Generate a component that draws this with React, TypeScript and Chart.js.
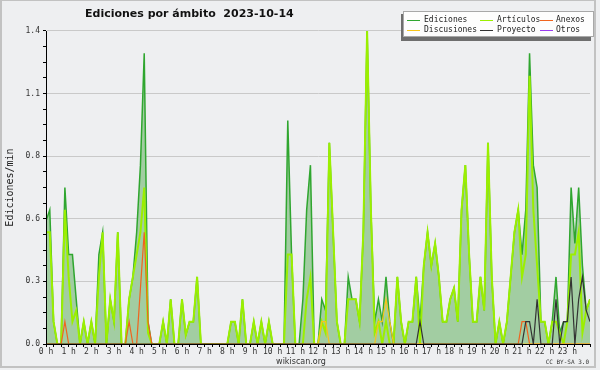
import React, { useEffect, useRef } from "react";
import { Chart, registerables } from "chart.js";

Chart.register(...registerables);

// ---- data (10-minute samples, 00:00 .. 24:00) ----
const TIMES = Array.from({ length: 145 }, (_, i) => i * 10); // minutes since 00:00

const EDICIONES = [
  0.55, 0.6, 0.1, 0, 0, 0.7, 0.4, 0.4, 0.2, 0,
  0.1, 0, 0.1, 0, 0.4, 0.5, 0, 0.2, 0.1, 0.5,
  0, 0, 0.2, 0.3, 0.5, 0.8, 1.3, 0.1, 0, 0,
  0, 0.1, 0, 0.2, 0, 0, 0.2, 0.04, 0.1, 0.1,
  0.3, 0, 0, 0, 0, 0, 0, 0, 0, 0.1,
  0.1, 0, 0.2, 0, 0, 0.1, 0, 0.1, 0, 0.1,
  0, 0, 0, 0, 1.0, 0.4, 0, 0, 0.2, 0.6,
  0.8, 0, 0, 0.2, 0.15, 0.9, 0.5, 0.1, 0, 0,
  0.3, 0.2, 0.2, 0.1, 0.5, 1.4, 0.6, 0.1, 0.2, 0.1,
  0.3, 0.1, 0, 0.3, 0.1, 0, 0.1, 0.1, 0.3, 0.1,
  0.35, 0.5, 0.35, 0.45, 0.3, 0.1, 0.1, 0.2, 0.25, 0.1,
  0.6, 0.8, 0.4, 0.1, 0.1, 0.3, 0.15, 0.9, 0.3, 0,
  0.1, 0, 0.1, 0.3, 0.5, 0.6, 0.4, 0.6, 1.3, 0.8,
  0.7, 0.1, 0.1, 0, 0.1, 0.3, 0.05, 0.1, 0.1, 0.7,
  0.45, 0.7, 0.35, 0.15, 0.2,
];

const ARTICULOS = [
  0.5, 0.5, 0.1, 0, 0, 0.6, 0.3, 0.1, 0.15, 0,
  0.1, 0, 0.1, 0, 0.3, 0.5, 0, 0.2, 0.1, 0.5,
  0, 0, 0.2, 0.3, 0.4, 0.5, 0.7, 0.05, 0, 0,
  0, 0.1, 0, 0.2, 0, 0, 0.2, 0.04, 0.1, 0.1,
  0.3, 0, 0, 0, 0, 0, 0, 0, 0, 0.1,
  0.1, 0, 0.2, 0, 0, 0.1, 0, 0.1, 0, 0.1,
  0, 0, 0, 0, 0.4, 0.4, 0, 0, 0, 0.2,
  0.3, 0, 0, 0.1, 0.05, 0.9, 0.5, 0.1, 0, 0,
  0.2, 0.2, 0.2, 0.1, 0.5, 1.4, 0.6, 0.05, 0.1, 0,
  0.1, 0, 0, 0.3, 0.1, 0, 0.1, 0.1, 0.3, 0,
  0.35, 0.5, 0.35, 0.45, 0.3, 0.1, 0.1, 0.2, 0.25, 0.1,
  0.6, 0.8, 0.4, 0.1, 0.1, 0.3, 0.15, 0.9, 0.3, 0,
  0.1, 0, 0.1, 0.3, 0.5, 0.6, 0.3, 0.4, 1.2, 0.6,
  0.35, 0.1, 0.1, 0, 0.1, 0.1, 0.05, 0, 0.1, 0.4,
  0.4, 0.5, 0.05, 0.15, 0.2,
];

const ANEXOS = [
  0, 0, 0, 0, 0, 0.1, 0, 0, 0, 0,
  0, 0, 0, 0, 0, 0, 0, 0, 0, 0,
  0, 0, 0.1, 0, 0, 0.25, 0.5, 0.1, 0, 0,
  0, 0, 0, 0, 0, 0, 0, 0, 0, 0,
  0, 0, 0, 0, 0, 0, 0, 0, 0, 0,
  0, 0, 0, 0, 0, 0, 0, 0, 0, 0,
  0, 0, 0, 0, 0, 0, 0, 0, 0, 0,
  0, 0, 0, 0, 0, 0, 0, 0, 0, 0,
  0, 0, 0, 0, 0, 0, 0, 0, 0, 0,
  0, 0, 0, 0, 0, 0, 0, 0, 0, 0,
  0, 0, 0, 0, 0, 0, 0, 0, 0, 0,
  0, 0, 0, 0, 0, 0, 0, 0, 0, 0,
  0, 0, 0, 0, 0, 0, 0.1, 0.1, 0, 0,
  0, 0, 0, 0, 0, 0, 0, 0, 0, 0,
  0, 0, 0, 0, 0,
];

const DISCUSIONES = [
  0, 0, 0, 0, 0, 0, 0, 0, 0, 0,
  0, 0, 0, 0, 0, 0, 0, 0, 0, 0,
  0, 0, 0, 0, 0, 0, 0, 0, 0, 0,
  0, 0, 0, 0, 0, 0, 0, 0, 0, 0,
  0, 0, 0, 0, 0, 0, 0, 0, 0, 0,
  0, 0, 0, 0, 0, 0, 0, 0, 0, 0,
  0, 0, 0, 0, 0, 0, 0, 0, 0, 0,
  0, 0, 0, 0.1, 0.1, 0, 0, 0, 0, 0,
  0, 0, 0, 0, 0, 0, 0, 0, 0.1, 0.1,
  0.2, 0.1, 0, 0, 0, 0, 0, 0, 0, 0,
  0, 0, 0, 0, 0, 0, 0, 0, 0, 0,
  0, 0, 0, 0, 0, 0, 0, 0, 0, 0,
  0, 0, 0, 0, 0, 0, 0, 0, 0, 0,
  0, 0, 0, 0, 0, 0, 0, 0, 0, 0,
  0, 0, 0, 0, 0,
];

const PROYECTO = [
  0, 0, 0, 0, 0, 0, 0, 0, 0, 0,
  0, 0, 0, 0, 0, 0, 0, 0, 0, 0,
  0, 0, 0, 0, 0, 0, 0, 0, 0, 0,
  0, 0, 0, 0, 0, 0, 0, 0, 0, 0,
  0, 0, 0, 0, 0, 0, 0, 0, 0, 0,
  0, 0, 0, 0, 0, 0, 0, 0, 0, 0,
  0, 0, 0, 0, 0, 0, 0, 0, 0, 0,
  0, 0, 0, 0, 0, 0, 0, 0, 0, 0,
  0, 0, 0, 0, 0, 0, 0, 0, 0, 0,
  0, 0, 0, 0, 0, 0, 0, 0, 0, 0.1,
  0, 0, 0, 0, 0, 0, 0, 0, 0, 0,
  0, 0, 0, 0, 0, 0, 0, 0, 0, 0,
  0, 0, 0, 0, 0, 0, 0, 0.1, 0.1, 0,
  0.2, 0, 0, 0, 0, 0.2, 0, 0.1, 0.1, 0.3,
  0, 0.2, 0.3, 0.15, 0.1,
];

const OTROS: number[] = [];

const X_TICKS = Array.from({ length: 73 }, (_, i) => i * 20); // every 20 minutes
const Y_STEP = 0.07;
const Y_TICKS = Array.from({ length: 21 }, (_, i) => i * Y_STEP);
const TITLE = "Ediciones por ámbito  2023-10-14";
const Y_TITLE = "Ediciones/min";
const FOOTER = "wikiscan.org";
const LICENSE = "CC BY-SA 3.0";

const W = 600;
const H = 370;
const BG = "#eeeff1";

const pts = (arr: number[]) => arr.map((v, i) => ({ x: TIMES[i], y: v }));

const decorPlugin = {
  id: "decor",
  beforeDraw(chart: any) {
    const ctx = chart.ctx;
    ctx.save();
    ctx.fillStyle = BG;
    ctx.fillRect(0, 0, W, H);
    ctx.restore();
  },
  afterDatasetsDraw(chart: any) {
    const { ctx, chartArea: a } = chart;
    ctx.save();
    ctx.strokeStyle = "#000";
    ctx.lineWidth = 1;
    const x = Math.round(a.left - 0.5) + 0.5;
    const y = Math.round(a.bottom - 0.5) + 0.5;
    ctx.beginPath();
    ctx.moveTo(x, a.top);
    ctx.lineTo(x, y);
    ctx.lineTo(a.right, y);
    ctx.stroke();
    ctx.restore();
  },
  afterDraw(chart: any) {
    const ctx = chart.ctx;
    ctx.save();
    // frame
    ctx.fillStyle = "#c2c2c2";
    ctx.fillRect(0, 0, 596, 1);
    ctx.fillRect(0, 0, 2, 368);
    ctx.fillRect(594, 0, 2, 368);
    ctx.fillRect(0, 366, 596, 2);

    // title
    ctx.fillStyle = "#111";
    ctx.font = 'bold 11px "DejaVu Sans"';
    ctx.textBaseline = "middle";
    ctx.textAlign = "left";
    ctx.fillText(TITLE, 85, 14);

    // legend box
    ctx.fillStyle = "#6e6e6e";
    ctx.fillRect(401, 14, 190, 27);
    ctx.fillStyle = "#fdfdfd";
    ctx.fillRect(403, 11, 191, 26);
    ctx.strokeStyle = "#a8a8a8";
    ctx.lineWidth = 1;
    ctx.strokeRect(403.5, 11.5, 190, 25);

    const ds = chart.data.datasets;
    const colLine = [407, 480, 540];
    const colText = [424, 497, 556];
    const rowY = [19.5, 29.5];
    ctx.font = '8px "DejaVu Sans Mono"';
    ds.forEach((d: any, i: number) => {
      const c = i % 3;
      const r = Math.floor(i / 3);
      ctx.strokeStyle = d.borderColor;
      ctx.lineWidth = 1;
      ctx.beginPath();
      ctx.moveTo(colLine[c], Math.round(rowY[r]) + 0.5);
      ctx.lineTo(colLine[c] + 13, Math.round(rowY[r]) + 0.5);
      ctx.stroke();
      ctx.fillStyle = "#222";
      ctx.fillText(d.label, colText[c], rowY[r]);
    });

    // footer
    ctx.fillStyle = "#333";
    ctx.font = '8px "DejaVu Sans"';
    ctx.textAlign = "center";
    ctx.fillText(FOOTER, 301, 362);
    ctx.font = '6px "DejaVu Sans Mono"';
    ctx.textAlign = "right";
    ctx.fillText(LICENSE, 589, 362);
    ctx.restore();
  },
};

export default function App() {
  const ref = useRef<HTMLCanvasElement | null>(null);

  useEffect(() => {
    if (!ref.current) return;
    const line = (label: string, data: number[], color: string, order: number, width = 1.2) => ({
      label,
      data: pts(data),
      borderColor: color,
      backgroundColor: color,
      borderWidth: width,
      pointRadius: 0,
      fill: false,
      order,
    });
    const chart = new Chart(ref.current, {
      type: "line",
      data: {
        datasets: [
          {
            label: "Ediciones",
            data: pts(EDICIONES),
            borderColor: "#2fa62f",
            backgroundColor: "#a2cda2",
            borderWidth: 1.5,
            pointRadius: 0,
            fill: "origin",
            order: 6,
          },
          line("Artículos", ARTICULOS, "#9bef00", 5, 2),
          line("Anexos", ANEXOS, "#f0641e", 4),
          line("Discusiones", DISCUSIONES, "#f7c51a", 3),
          line("Proyecto", PROYECTO, "#333333", 2),
          line("Otros", OTROS, "#9a3cf0", 1),
        ],
      },
      options: {
        responsive: false,
        animation: false,
        parsing: false as any,
        layout: { padding: { top: 31, right: 10, left: 0, bottom: 0 } },
        plugins: {
          legend: { display: false },
          tooltip: { enabled: false },
          title: { display: false },
        },
        elements: { line: { tension: 0 }, point: { radius: 0 } },
        scales: {
          x: {
            type: "linear",
            min: 0,
            max: 1440,
            afterBuildTicks: (s: any) => {
              s.ticks = X_TICKS.map((v) => ({ value: v }));
            },
            afterFit: (s: any) => {
              s.height = 26;
            },
            ticks: {
              autoSkip: false,
              maxRotation: 0,
              minRotation: 0,
              padding: 0,
              color: "#333",
              font: { family: "DejaVu Sans Mono", size: 8 },
              callback: (v: any) => (v % 60 === 0 && v < 1440 ? `${v / 60} h` : ""),
            },
            grid: { drawOnChartArea: false, drawTicks: true, tickLength: 3, color: "#000" },
            border: { display: true, color: "#000" },
          },
          y: {
            min: 0,
            max: 1.4,
            afterBuildTicks: (s: any) => {
              s.ticks = Y_TICKS.map((v) => ({ value: v }));
            },
            afterFit: (s: any) => {
              s.width = 46;
            },
            ticks: {
              autoSkip: false,
              padding: 3,
              color: "#333",
              font: { family: "DejaVu Sans Mono", size: 8 },
              callback: (v: any) => {
                const k = Math.round(v / Y_STEP);
                return k % 4 === 0 ? (k * Y_STEP).toFixed(1) : "";
              },
            },
            grid: {
              color: (c: any) => {
                const k = Math.round((c.tick ? c.tick.value : 0) / Y_STEP);
                return k % 4 === 0 ? "#c9c9c9" : "rgba(0,0,0,0)";
              },
              tickColor: "#000",
              tickLength: 3,
              drawTicks: true,
            },
            border: { display: true, color: "#000" },
            title: {
              display: true,
              text: Y_TITLE,
              color: "#222",
              font: { family: "DejaVu Sans Mono", size: 10 },
              padding: { top: 4, bottom: 0 },
            },
          },
        },
      },
      plugins: [decorPlugin],
    } as any);
    return () => chart.destroy();
  }, []);

  return (
    <div style={{ position: "absolute", left: 0, top: 0, width: W, height: H }}>
      <canvas ref={ref} width={W} height={H} style={{ width: W, height: H, display: "block" }} />
    </div>
  );
}
